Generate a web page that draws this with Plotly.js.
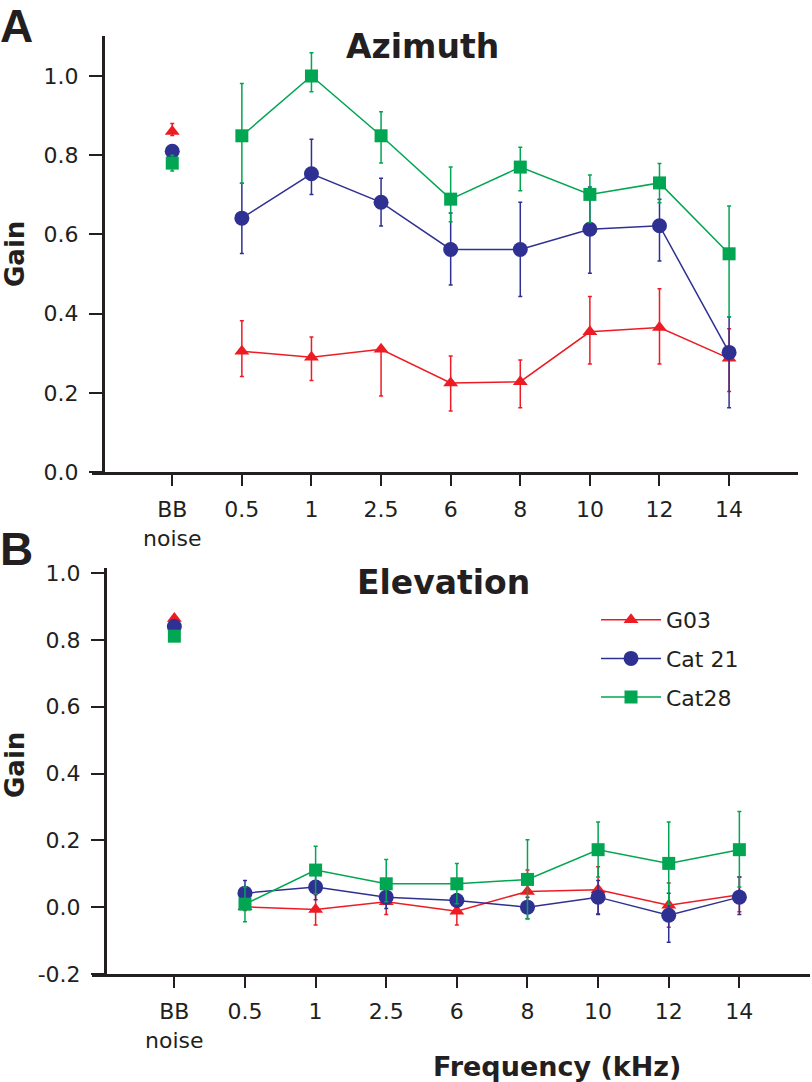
<!DOCTYPE html>
<html>
<head>
<meta charset="utf-8">
<script src="https://cdn.plot.ly/plotly-3.0.1.min.js"></script>
<style>
  body { margin: 0; background: #fff; }
  #plot { width: 812px; height: 1082px; }
</style>
</head>
<body>
<div id="plot"></div>
<script>
// categories (x axis)
const categories = ['BB<br>noise', '0.5', '1', '2.5', '6', '8', '10', '12', '14'];
const freqs = categories.slice(1);
const bbCat = categories[0];

const subjects = ['G03', 'Cat 21', 'Cat28'];
const colors = ['#ed1c24', '#2e3192', '#00a651'];
const symbols = ['triangle-up', 'circle', 'square'];

// Azimuth gains (panel A)
const azBB   = [0.86, 0.81, 0.78];
const azBBHi = [0.88, 0.82, 0.80];
const azBBLo = [0.85, 0.80, 0.76];
const azG03   = [0.305, 0.29, 0.31, 0.225, 0.228, 0.354, 0.365, 0.287];
const azG03Hi = [0.382, 0.341, 0.31, 0.293, 0.283, 0.443, 0.463, 0.362];
const azG03Lo = [0.241, 0.231, 0.192, 0.154, 0.162, 0.273, 0.273, 0.203];
const azC21   = [0.641, 0.753, 0.681, 0.562, 0.562, 0.613, 0.622, 0.302];
const azC21Hi = [0.729, 0.840, 0.742, 0.654, 0.681, 0.72, 0.689, 0.392];
const azC21Lo = [0.552, 0.701, 0.621, 0.472, 0.443, 0.502, 0.533, 0.162];
const azC28   = [0.849, 1.0, 0.849, 0.689, 0.770, 0.701, 0.730, 0.551];
const azC28Hi = [0.981, 1.059, 0.910, 0.770, 0.820, 0.750, 0.779, 0.672];
const azC28Lo = [0.729, 0.960, 0.780, 0.632, 0.710, 0.63, 0.68, 0.392];

// Elevation gains (panel B)
const elBB   = [0.864, 0.84, 0.811];
const elBBHi = [0.864, 0.84, 0.811];
const elBBLo = [0.864, 0.84, 0.811];
const elG03   = [0.001, -0.007, 0.016, -0.012, 0.047, 0.052, 0.006, 0.037];
const elG03Hi = [0.006, 0.037, 0.052, 0.03, 0.111, 0.121, 0.072, 0.09];
const elG03Lo = [-0.01, -0.053, -0.022, -0.053, -0.004, -0.02, -0.06, -0.014];
const elC21   = [0.042, 0.060, 0.030, 0.020, 0.0, 0.030, -0.024, 0.030];
const elC21Hi = [0.080, 0.10, 0.052, 0.04, 0.03, 0.08, 0.042, 0.09];
const elC21Lo = [0.0, 0.022, -0.004, 0.0, -0.035, -0.022, -0.105, -0.022];
const elC28   = [0.009, 0.111, 0.070, 0.070, 0.083, 0.172, 0.131, 0.172];
const elC28Hi = [0.06, 0.182, 0.143, 0.131, 0.202, 0.255, 0.255, 0.286];
const elC28Lo = [-0.044, 0.04, 0.016, 0.01, -0.035, 0.09, 0.009, 0.06];

const yTicksA = [0, 0.2, 0.4, 0.6, 0.8, 1.0];
const yTextA = ['0.0', '0.2', '0.4', '0.6', '0.8', '1.0'];
const yTicksB = [-0.2, 0, 0.2, 0.4, 0.6, 0.8, 1.0];
const yTextB = ['-0.2', '0.0', '0.2', '0.4', '0.6', '0.8', '1.0'];

const W = 812, H = 1082;
const px = p => p / W;
const py = p => 1 - p / H;
const ink = '#231f20';
const tickFont = { family: 'DejaVu Sans', size: 22, color: ink };
const boldFont = { family: 'DejaVu Sans', size: 33, color: ink, weight: 'bold' };

function errs(vals, hi, lo) {
    return {
        type: 'data', symmetric: false,
        array: hi.map((h, i) => Math.max(h - vals[i], 0)),
        arrayminus: lo.map((l, i) => Math.max(vals[i] - l, 0)),
        color: null, thickness: 1.5, width: 2
    };
}

const panels = [
    { xa: 'x', ya: 'y', bb: azBB, bbHi: azBBHi, bbLo: azBBLo,
      series: [[azG03, azG03Hi, azG03Lo], [azC21, azC21Hi, azC21Lo], [azC28, azC28Hi, azC28Lo]], legend: false },
    { xa: 'x2', ya: 'y2', bb: elBB, bbHi: elBBHi, bbLo: elBBLo,
      series: [[elG03, elG03Hi, elG03Lo], [elC21, elC21Hi, elC21Lo], [elC28, elC28Hi, elC28Lo]], legend: true }
];

const data = [];
panels.forEach(p => {
    subjects.forEach((name, s) => {
        const [vals, hi, lo] = p.series[s];
        const e = errs(vals, hi, lo);
        e.color = colors[s];
        data.push({
            x: freqs, y: vals, xaxis: p.xa, yaxis: p.ya,
            type: 'scatter', mode: 'lines+markers', name: name,
            legendgroup: name, showlegend: p.legend,
            line: { color: colors[s], width: 1.5 },
            marker: { symbol: symbols[s], color: colors[s], size: s === 1 ? 15 : 13 },
            error_y: e
        });
        const eb = errs([p.bb[s]], [p.bbHi[s]], [p.bbLo[s]]);
        eb.color = colors[s];
        data.push({
            x: [bbCat], y: [p.bb[s]], xaxis: p.xa, yaxis: p.ya,
            type: 'scatter', mode: 'markers', name: name,
            legendgroup: name, showlegend: false,
            marker: { symbol: symbols[s], color: colors[s], size: s === 1 ? 15 : 13 },
            error_y: eb
        });
    });
});

function xAxis(domain, range, anchor) {
    return {
        domain: domain, range: range, anchor: anchor,
        type: 'category', categoryorder: 'array', categoryarray: categories,
        showline: true, linewidth: 2.5, linecolor: ink,
        ticks: 'outside', ticklen: 11, tickwidth: 2, tickcolor: ink,
        tickfont: tickFont, ticklabelstandoff: 5,
        showgrid: false, zeroline: false, fixedrange: true, automargin: false
    };
}
function yAxis(domain, range, position, vals, text) {
    return {
        domain: domain, range: range, anchor: 'free', position: position,
        tickvals: vals, ticktext: text,
        showline: true, linewidth: 2.5, linecolor: ink,
        ticks: 'outside', ticklen: 13, tickwidth: 2, tickcolor: ink,
        tickfont: tickFont, ticklabelstandoff: 6,
        showgrid: false, zeroline: false, fixedrange: true, automargin: false
    };
}

const layout = {
    width: W, height: H,
    margin: { l: 0, r: 0, t: 0, b: 0 },
    paper_bgcolor: '#fff', plot_bgcolor: 'rgba(0,0,0,0)',
    font: { family: 'DejaVu Sans', color: ink },
    xaxis: xAxis([px(92), px(798)], [-1.153, 8.99], 'y'),
    yaxis: yAxis([py(472), py(36)], [0, 1.101], px(103), yTicksA, yTextA),
    xaxis2: xAxis([px(92), px(810)], [-1.166, 9.0], 'y2'),
    yaxis2: yAxis([py(974), py(568)], [-0.2, 1.015], px(105), yTicksB, yTextB),
    showlegend: true,
    legend: {
        x: px(596), y: py(599), xanchor: 'left', yanchor: 'top',
        font: { family: 'DejaVu Sans', size: 22, color: ink },
        tracegroupgap: 7, itemwidth: 60, bgcolor: 'rgba(0,0,0,0)'
    },
    annotations: [
        { text: 'A', x: px(16), y: py(26), font: { family: 'Liberation Sans', size: 46, weight: 'bold', color: ink } },
        { text: 'B', x: px(16), y: py(549), font: { family: 'Liberation Sans', size: 46, weight: 'bold', color: ink } },
        { text: 'Azimuth', x: px(422), y: py(47), font: boldFont },
        { text: 'Elevation', x: px(443), y: py(582), font: boldFont },
        { text: 'Gain', x: px(15), y: py(254), textangle: -90, borderpad: 0, font: { family: 'DejaVu Sans', size: 26, weight: 'bold', color: ink } },
        { text: 'Gain', x: px(15), y: py(765), textangle: -90, borderpad: 0, font: { family: 'DejaVu Sans', size: 26, weight: 'bold', color: ink } },
        { text: 'Frequency (kHz)', x: px(557), y: py(1066), font: { family: 'DejaVu Sans', size: 27, weight: 'bold', color: ink } }
    ].map(a => Object.assign({ xref: 'paper', yref: 'paper', xanchor: 'center', yanchor: 'middle', showarrow: false }, a))
};

Plotly.newPlot('plot', data, layout, { displayModeBar: false, staticPlot: true });
</script>
</body>
</html>
